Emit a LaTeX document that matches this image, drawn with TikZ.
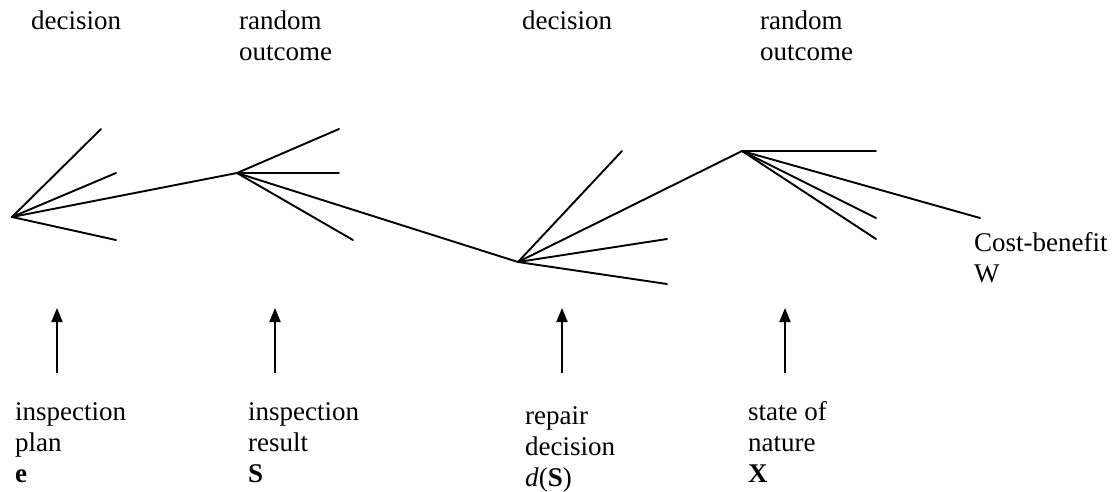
\documentclass[tikz,border=0pt]{standalone}
\usepackage{fontspec}
\setmainfont{Liberation Serif}
\usetikzlibrary{arrows.meta}
\begin{document}
\begin{tikzpicture}[x=1pt,y=-1pt,
  branch/.style={line width=1.9pt,line cap=round,black},
  uparrow/.style={line width=1.9pt,-{Triangle[length=14pt,width=11pt]}},
  lbl/.style={anchor=base west,inner sep=0pt,align=left,font=\fontsize{27}{31}\selectfont}]
\useasboundingbox (0,0) rectangle (1116,492);
% top labels (anchor = baseline of last line)
\node[lbl] (t1) at (31,30) {decision};
\node[lbl] (t2) at (239,61) {random\\outcome};
\node[lbl] (t3) at (522,30) {decision};
\node[lbl] (t4) at (760,61) {random\\outcome};
% tree nodes
\coordinate (A) at (12,217);
\coordinate (B) at (237,173);
\coordinate (C) at (518,262);
\coordinate (D) at (742,151);
\coordinate (A1) at (101,129);
\coordinate (A2) at (116,173);
\coordinate (A3) at (116,240);
\coordinate (B1) at (339,129);
\coordinate (B2) at (339,173);
\coordinate (B3) at (353,240);
\coordinate (C1) at (622,151);
\coordinate (C2) at (667,239);
\coordinate (C3) at (667,284);
\coordinate (D1) at (876,151);
\coordinate (D2) at (876,218);
\coordinate (D3) at (876,239);
\coordinate (D4) at (980,218);
\draw[branch] (A) -- (A1);
\draw[branch] (A) -- (A2);
\draw[branch] (A) -- (A3);
\draw[branch] (A) -- (B);
\draw[branch] (B) -- (B1);
\draw[branch] (B) -- (B2);
\draw[branch] (B) -- (B3);
\draw[branch] (B) -- (C);
\draw[branch] (C) -- (C1);
\draw[branch] (C) -- (C2);
\draw[branch] (C) -- (C3);
\draw[branch] (C) -- (D);
\draw[branch] (D) -- (D1);
\draw[branch] (D) -- (D2);
\draw[branch] (D) -- (D3);
\draw[branch] (D) -- (D4);
\node[lbl] (cb) at (974,282) {Cost-benefit\\W};
% arrows
\coordinate (p1) at (57,373); \coordinate (q1) at (57,308);
\coordinate (p2) at (275,373); \coordinate (q2) at (275,308);
\coordinate (p3) at (562,373); \coordinate (q3) at (562,308);
\coordinate (p4) at (785,373); \coordinate (q4) at (785,308);
\draw[uparrow] (p1) -- (q1);
\draw[uparrow] (p2) -- (q2);
\draw[uparrow] (p3) -- (q3);
\draw[uparrow] (p4) -- (q4);
% bottom labels
\node[lbl] (b1) at (15,482) {inspection\\plan\\\textbf{e}};
\node[lbl] (b2) at (248,482) {inspection\\result\\\textbf{S}};
\node[lbl] (b3) at (525,486) {repair\\decision\\\textit{d}(\textbf{S})};
\node[lbl] (b4) at (748,482) {state of\\nature\\\textbf{X}};
\end{tikzpicture}
\end{document}
